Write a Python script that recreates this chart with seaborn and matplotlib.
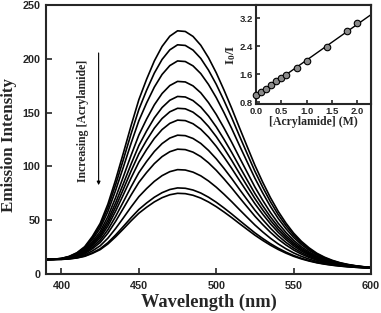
import numpy as np
import pandas as pd
import matplotlib
matplotlib.use("Agg")
import matplotlib.pyplot as plt
import seaborn as sns

# ---- data ----
wavelength = list(range(390, 601, 5))
# emission profile of the top (no quencher) spectrum
top_profile = [13.5, 13.8, 14.5, 16.4, 19.8, 25.4, 35.0, 47.0, 65.0, 87.6,
               112.5, 138.0, 162.0, 181.0, 198.0, 211.5, 221.0, 226.0, 225.4, 220.8,
               212.6, 201.0, 187.0, 171.0, 154.0, 136.0, 118.4, 101.0, 85.4, 71.0,
               58.3, 47.4, 38.0, 30.4, 24.3, 19.3, 15.6, 12.7, 10.5, 8.9,
               7.7, 6.8, 6.1]
# common background level on which the spectra sit
background = [13.5, 13.4, 13.2, 13.0, 12.8, 12.6, 12.4, 12.2, 12.0, 11.8,
              11.6, 11.4, 11.2, 11.0, 10.8, 10.6, 10.4, 10.2, 10.0, 9.8,
              9.6, 9.4, 9.2, 9.0, 8.8, 8.6, 8.4, 8.2, 8.0, 7.8,
              7.6, 7.4, 7.2, 7.0, 6.8, 6.6, 6.4, 6.2, 6.0, 5.8,
              5.6, 5.4, 5.2]
peak_intensity = [226, 213, 198, 179, 165, 154, 143, 129, 116, 97, 80, 75]

acrylamide = [0.0, 0.1, 0.2, 0.3, 0.4, 0.5, 0.6, 0.8, 1.0, 1.4, 1.8, 2.0]
i0_over_i = [1.02, 1.10, 1.19, 1.28, 1.40, 1.48, 1.59, 1.77, 1.97, 2.38, 2.85, 3.06]

main_xticks = [400, 450, 500, 550, 600]
main_yticks = [0, 50, 100, 150, 200, 250]
inset_xticks = [0.0, 0.5, 1.0, 1.5, 2.0]
inset_yticks = [0.8, 1.6, 2.4, 3.2]

# ---- build tables ----
wl = np.array(wavelength, float)
prof = np.array(top_profile)
bg = np.array(background)
ipk = int(np.argmax(prof))
rows = []
for k, p in enumerate(peak_intensity):
    scale = (p - bg[ipk]) / (prof[ipk] - bg[ipk])
    vals = bg + (prof - bg) * scale
    rows.append(pd.DataFrame({"wl": wl, "I": vals, "curve": k}))
spec = pd.DataFrame(pd.concat(rows, ignore_index=True))
sv = pd.DataFrame({"c": acrylamide, "r": i0_over_i})

# ---- style ----
sns.set_style("ticks")
plt.rcParams.update({
    "xtick.direction": "in", "ytick.direction": "in",
    "axes.linewidth": 1.5,
    "xtick.major.width": 1.2, "ytick.major.width": 1.2,
    "xtick.major.size": 4, "ytick.major.size": 4,
    "mathtext.fontset": "custom",
    "mathtext.rm": "Liberation Serif:bold",
    "mathtext.it": "Liberation Serif:bold",
    "mathtext.bf": "Liberation Serif:bold",
})
sans = ["Liberation Sans", "DejaVu Sans"]
serif = ["Liberation Serif", "DejaVu Serif"]

fig = plt.figure(figsize=(3.81, 3.13), dpi=100)
ax = fig.add_axes([46/381, 39/313, 325/381, 269/313])

sns.lineplot(data=spec, x="wl", y="I", units="curve", estimator=None,
             color="black", lw=1.2, ax=ax, legend=False)
ax.set_xlim(390, 600)
ax.set_ylim(0, 250)
ax.set_xticks(main_xticks)
ax.set_yticks(main_yticks)
for t in ax.get_xticklabels() + ax.get_yticklabels():
    t.set_fontfamily(sans)
    t.set_fontweight("bold")
    t.set_fontsize(7.8)
ax.tick_params(axis="x", pad=5)
ax.tick_params(axis="y", pad=4)
ax.set_xlabel("Wavelength (nm)", family=serif, fontweight="bold", fontsize=13.2, labelpad=2)
ax.set_ylabel("Emission Intensity", family=serif, fontweight="bold", fontsize=12.2, labelpad=2)
ax.yaxis.set_label_coords(-0.088, 0.48)
for s in ax.spines.values():
    s.set_visible(True)
    s.set_linewidth(1.5)

ax.text(413.9, 142, "Increasing [Acrylamide]", rotation=90, ha="center", va="center",
        family=serif, fontweight="bold", fontsize=8.5)
ax.annotate("", xy=(424, 80), xytext=(424, 208),
            arrowprops=dict(arrowstyle="-|>", color="black", lw=0.8,
                            mutation_scale=5))

# ---- inset ----
ins = fig.add_axes([256/381, (313-104)/313, 115/381, 99/313])
coef = np.polyfit(sv["c"], sv["r"], 1)
xl = (0.0, 2.27)
line = pd.DataFrame({"c": list(xl), "r": [coef[1] + coef[0]*xl[0], coef[1] + coef[0]*xl[1]]})
sns.lineplot(data=line, x="c", y="r", color="black", lw=1.0, ax=ins)
sns.scatterplot(data=sv, x="c", y="r", s=22, color="#8a8a8a", edgecolor="black",
                linewidth=0.8, ax=ins, zorder=3, clip_on=False)
ins.set_xlim(*xl)
ins.set_ylim(0.75, 3.58)
ins.set_xticks(inset_xticks)
ins.set_yticks(inset_yticks)
ins.set_xticklabels([f"{v:.1f}" for v in inset_xticks])
ins.set_yticklabels([f"{v:.1f}" for v in inset_yticks])
for t in ins.get_xticklabels() + ins.get_yticklabels():
    t.set_fontfamily(sans)
    t.set_fontweight("bold")
    t.set_fontsize(6.8)
ins.tick_params(length=3, pad=2)
ins.set_xlabel("[Acrylamide] (M)", family=serif, fontweight="bold", fontsize=8.5, labelpad=0)
ins.set_ylabel("I$_0$/I", family=serif, fontweight="bold", fontsize=9.5, labelpad=1)
for s in ins.spines.values():
    s.set_linewidth(1.5)

fig.savefig("out.png", dpi=100)
